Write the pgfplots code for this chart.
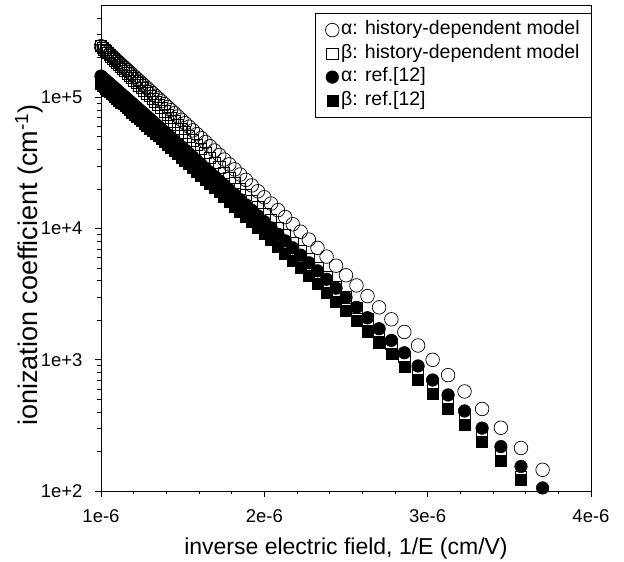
\documentclass[border=0pt]{standalone}
\usepackage{fontspec}
\setmainfont{Liberation Sans}
\usepackage{pgfplots}
\usepackage{pgfplotstable}
\pgfplotsset{compat=1.18}

\pgfplotstableread{
x ah bh ar br
1.0000e-6 244900 244900 144900 125900
1.0101e-6 238600 237700 141300 122700
1.0204e-6 232300 230700 137700 119400
1.0309e-6 226000 223700 134200 116200
1.0417e-6 219800 216700 130600 113000
1.0526e-6 213600 209900 127400 109900
1.0638e-6 207500 203100 123600 106700
1.0753e-6 201400 196300 120100 103600
1.0870e-6 195300 189700 116600 100500
1.0989e-6 189400 183200 113200 97480
1.1111e-6 183500 176700 109800 94430
1.1236e-6 177600 170400 106400 91440
1.1364e-6 171800 164100 103100 88440
1.1494e-6 166000 158000 99790 85510
1.1628e-6 160300 151800 96500 82580
1.1765e-6 154700 145900 93240 79690
1.1905e-6 149100 140000 90020 76840
1.2048e-6 143700 134200 86840 74020
1.2195e-6 138200 128600 83680 71250
1.2346e-6 132900 123300 80550 68500
1.2500e-6 127600 117800 77490 65810
1.2658e-6 122400 112200 74430 63160
1.2821e-6 117500 107000 71470 60530
1.2987e-6 112300 101900 68530 57970
1.3158e-6 107400 96880 65630 55430
1.3333e-6 102500 92230 62800 52950
1.3514e-6 97750 87260 59970 50510
1.3699e-6 93120 82640 57220 48120
1.3889e-6 88560 78160 54530 45780
1.4085e-6 84100 73800 51890 43490
1.4286e-6 79740 69560 49300 41260
1.4493e-6 75500 65460 46770 39080
1.4706e-6 71370 61490 44290 36960
1.4925e-6 67350 57660 41890 34890
1.5152e-6 63400 53930 39520 32870
1.5385e-6 59600 50370 37240 30920
1.5625e-6 55920 46940 35020 29020
1.5873e-6 52360 43650 32870 27180
1.6129e-6 48910 40480 30770 25410
1.6393e-6 45580 37460 28750 23700
1.6667e-6 42380 34570 26790 22050
1.6949e-6 39290 31820 24910 20460
1.7241e-6 36340 29210 23110 18930
1.7544e-6 33510 26720 21360 17480
1.7857e-6 30810 24370 19700 16080
1.8182e-6 28230 22160 18100 14750
1.8519e-6 25790 20070 16590 13490
1.8868e-6 23480 18110 15140 12310
1.9231e-6 21290 16280 13770 11160
1.9608e-6 19220 14580 12480 10090
2.0000e-6 17290 12990 11260 9085
2.0408e-6 15480 11520 10120 8145
2.0833e-6 13800 10170 9048 7268
2.1277e-6 12220 8927 8046 6451
2.1739e-6 10780 7794 7122 5697
2.2222e-6 9445 6764 6265 5002
2.2727e-6 8230 5831 5479 4365
2.3256e-6 7115 4992 4758 3783
2.3810e-6 6109 4244 4103 3257
2.4390e-6 5207 3578 3512 2783
2.5000e-6 4400 2992 2981 2358
2.5641e-6 3685 2478 2508 1980
2.6316e-6 3054 2033 2089 1647
2.7027e-6 2506 1650 1722 1356
2.7778e-6 2032 1323 1404 1103
2.8571e-6 1628 1048 1130 887.0
2.9412e-6 1284 820.8 896.7 703.4
3.0303e-6 998.7 630.4 701.1 549.7
3.1250e-6 763.6 477.3 539.2 422.8
3.2258e-6 573.3 355.0 407.2 319.3
3.3333e-6 421.8 258.9 301.4 236.6
3.4483e-6 303.3 184.7 218.0 171.4
3.5714e-6 212.7 128.7 153.9 121.2
3.7037e-6 145.0 nan 105.5 nan
}\data

\begin{document}
\begin{tikzpicture}
\path[use as bounding box] (-101pt,-71pt) rectangle (523pt,491pt);
\begin{axis}[
  scale only axis, width=490pt, height=485.5pt,
  at={(0pt,0pt)}, anchor=south west,
  clip=false,
  xmin=1e-6, xmax=4e-6,
  ymode=log, ymin=100, ymax=5e5,
  scaled x ticks=false,
  xtick={1e-6,2e-6,3e-6,4e-6},
  xticklabels={1e-6,2e-6,3e-6,4e-6},
  minor x tick num=4,
  ytick={100,1000,10000,100000},
  yticklabels={1e+2,1e+3,1e+4,1e+5},
  minor ytick={200,300,400,500,600,700,800,900,2000,3000,4000,5000,6000,7000,8000,9000,20000,30000,40000,50000,60000,70000,80000,90000,200000,300000,400000},
  tick align=outside,
  xtick pos=bottom, ytick pos=left,
  major tick length=6pt, minor tick length=3.5pt,
  every tick/.style={black, line width=0.6pt},
  axis line style={black, line width=0.8pt},
  ticklabel style={font=\fontsize{18.5}{22}\selectfont},
  xticklabel style={yshift=-9pt},
  yticklabel style={xshift=-9pt},
  xlabel={inverse electric field, 1/E (cm/V)},
  ylabel={ionization coefficient (cm\textsuperscript{-1})},
  every axis x label/.style={at={(axis description cs:0.5,0)}, yshift=-58pt, anchor=center, font=\fontsize{23}{27}\selectfont},
  every axis y label/.style={at={(axis description cs:0,0.5)}, xshift=-72pt, yshift=-17pt, anchor=center, rotate=90, font=\fontsize{27}{31}\selectfont},
  legend cell align=left,
  legend style={at={(1,1)}, anchor=north east, yshift=-7.5pt, xshift=1pt,
    draw=black, line width=0.7pt, fill=white,
    font=\fontsize{19.5}{23}\selectfont,
    inner xsep=10pt, inner ysep=5pt,
    nodes={text height=14pt, text depth=4.5pt, inner ysep=2.5pt},
    /tikz/every even column/.append style={column sep=7pt}},
]
\addplot[only marks, mark=o, mark size=6.8pt, mark options={draw=black, fill=white, line width=0.7pt}] table[x=x, y=ah] {\data};
\addlegendentry{α: history-dependent model}
\addplot[only marks, mark=square, mark size=5.6pt, mark options={draw=black, fill=white, line width=0.7pt}] table[x=x, y=bh] {\data};
\addlegendentry{β: history-dependent model}
\addplot[only marks, mark=*, mark size=6.3pt, mark options={draw=black, fill=black, line width=0.5pt}] table[x=x, y=ar] {\data};
\addlegendentry{α: ref.[12]}
\addplot[only marks, mark=square*, mark size=5.5pt, mark options={draw=black, fill=black, line width=0.5pt}] table[x=x, y=br] {\data};
\addlegendentry{β: ref.[12]}
\end{axis}
\end{tikzpicture}
\end{document}
